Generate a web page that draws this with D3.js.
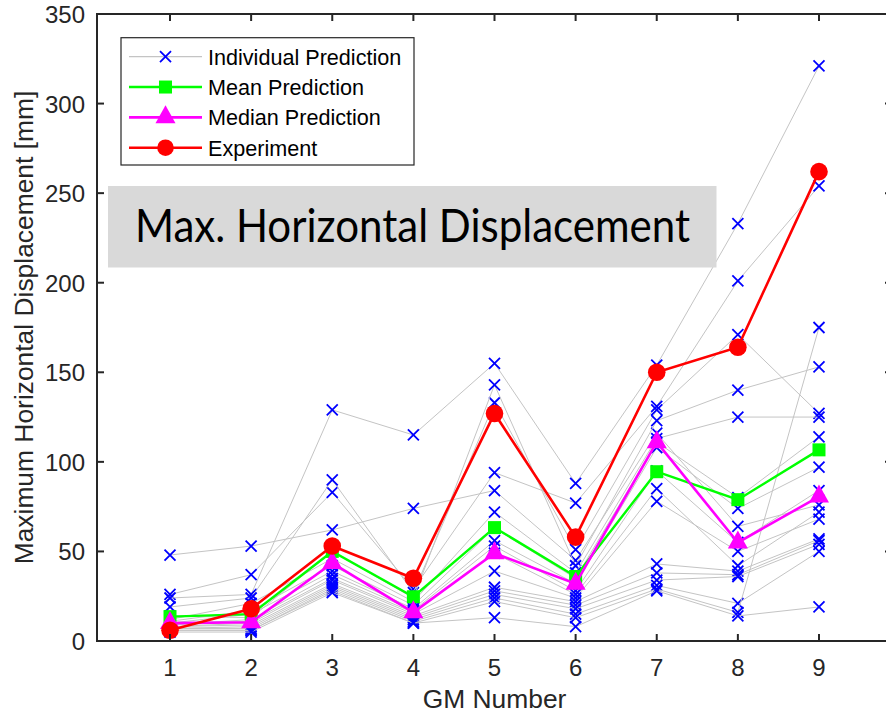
<!DOCTYPE html>
<html>
<head>
<meta charset="utf-8">
<script src="https://cdn.jsdelivr.net/npm/d3@7"></script>
<style>
  body { margin: 0; background: #fff; }
  svg { display: block; }
</style>
</head>
<body>
<script>
// Ground motion numbers on the x axis
const gmNumbers = [1, 2, 3, 4, 5, 6, 7, 8, 9];

// Individual model predictions of maximum horizontal displacement [mm], one row per model
const individualPredictions = [
  [48, 53, 62, 74, 84, 45, 116, 64, 76],
  [26, 37, 83, 29, 94, 77, 131, 201, 254],
  [24, 26, 129, 115, 155, 88, 154, 233, 321],
  [19, 24, 90, 27, 133, 51, 129, 171, 127],
  [14, 13, 50, 24, 143, 42, 123, 140, 153],
  [12, 21, 46, 22, 72, 38, 113, 125, 125],
  [11, 17, 42, 20, 63, 35, 111, 80, 114],
  [10, 15, 39, 18, 56, 32, 108, 74, 97],
  [9, 12, 37, 17, 53, 28, 95, 55, 84],
  [9, 11, 35, 16, 49, 26, 85, 42, 72],
  [8, 10, 34, 15, 39, 24, 78, 50, 68],
  [8, 9, 32, 14, 30, 22, 43, 39, 57],
  [7, 8, 31, 13, 28, 20, 38, 37, 56],
  [7, 7, 30, 12, 26, 18, 34, 36, 54],
  [6, 6, 29, 11, 24, 15, 31, 21, 50],
  [6, 6, 28, 10, 22, 13, 29, 16, 175],
  [5, 5, 27, 10, 13, 8, 28, 14, 19]
];

const meanPrediction   = [13.6, 15, 50, 24.7, 63.3, 36, 94.5, 78.9, 106.7];
const medianPrediction = [10, 10.5, 43.5, 16, 49, 32, 111, 55, 80.6];
const experiment       = [6, 18, 53, 35, 127, 58, 150, 164, 262];

const yTicks = [0, 50, 100, 150, 200, 250, 300, 350];
const legendLabels = ["Individual Prediction", "Mean Prediction", "Median Prediction", "Experiment"];
const titleText = "Max. Horizontal Displacement";
const xLabel = "GM Number";
const yLabel = "Maximum Horizontal Displacement [mm]";

const W = 886, H = 715;
const axisColor = "#262626";
const fontFamily = "'Liberation Sans', Arial, Helvetica, sans-serif";

const svg = d3.select("body").append("svg")
  .attr("width", W).attr("height", H)
  .attr("viewBox", `0 0 ${W} ${H}`);

const x = d3.scaleLinear().domain([0.1, 9.9]).range([97, 892]);
const y = d3.scaleLinear().domain([0, 350]).range([641, 14]);

const line = d3.line()
  .x((d, i) => x(gmNumbers[i]))
  .y(d => y(d));

// marker shapes
const xMark = "M-5.5,-5.5L5.5,5.5M-5.5,5.5L5.5,-5.5";
const squareMark = "M-6.5,-6.5H6.5V6.5H-6.5Z";
const triMark = "M0,-12L10,6L-10,6Z";

// individual predictions: grey lines with blue crosses
const indiv = svg.append("g");
individualPredictions.forEach(series => {
  const g = indiv.append("g");
  g.append("path")
    .attr("d", line(series))
    .attr("fill", "none")
    .attr("stroke", "#c4c4c4")
    .attr("stroke-width", 1);
  g.selectAll("path.m").data(series).join("path")
    .attr("class", "m")
    .attr("transform", (d, i) => `translate(${x(gmNumbers[i])},${y(d)})`)
    .attr("d", xMark)
    .attr("fill", "none")
    .attr("stroke", "#0000ff")
    .attr("stroke-width", 1.8);
});

// mean prediction
const meanG = svg.append("g");
meanG.append("path").attr("d", line(meanPrediction))
  .attr("fill", "none").attr("stroke", "#00ff00").attr("stroke-width", 2.4);
meanG.selectAll("path.m").data(meanPrediction).join("path")
  .attr("class", "m")
  .attr("transform", (d, i) => `translate(${x(gmNumbers[i])},${y(d)})`)
  .attr("d", squareMark).attr("fill", "#00ff00");

// median prediction
const medG = svg.append("g");
medG.append("path").attr("d", line(medianPrediction))
  .attr("fill", "none").attr("stroke", "#ff00ff").attr("stroke-width", 2.6);
medG.selectAll("path.m").data(medianPrediction).join("path")
  .attr("class", "m")
  .attr("transform", (d, i) => `translate(${x(gmNumbers[i])},${y(d)})`)
  .attr("d", triMark).attr("fill", "#ff00ff");

// experiment
const expG = svg.append("g");
expG.append("path").attr("d", line(experiment))
  .attr("fill", "none").attr("stroke", "#ff0000").attr("stroke-width", 2.6);
expG.selectAll("circle").data(experiment).join("circle")
  .attr("cx", (d, i) => x(gmNumbers[i]))
  .attr("cy", d => y(d))
  .attr("r", 8.8).attr("fill", "#ff0000");

// axes box with inward ticks on all four sides
const [x0, x1] = x.range();
const [yb, yt] = y.range();
const frame = svg.append("g").attr("stroke", axisColor).attr("stroke-width", 2).attr("fill", "none");
frame.append("rect").attr("x", x0).attr("y", yt).attr("width", x1 - x0).attr("height", yb - yt);
const tickLen = 7;
gmNumbers.forEach(v => {
  frame.append("line").attr("x1", x(v)).attr("x2", x(v)).attr("y1", yb).attr("y2", yb - tickLen);
  frame.append("line").attr("x1", x(v)).attr("x2", x(v)).attr("y1", yt).attr("y2", yt + tickLen);
});
yTicks.forEach(v => {
  frame.append("line").attr("x1", x0).attr("x2", x0 + tickLen).attr("y1", y(v)).attr("y2", y(v));
  frame.append("line").attr("x1", x1).attr("x2", x1 - tickLen).attr("y1", y(v)).attr("y2", y(v));
});

// tick labels
svg.append("g").selectAll("text").data(gmNumbers).join("text")
  .attr("x", d => x(d)).attr("y", 676)
  .attr("text-anchor", "middle")
  .attr("font-family", fontFamily).attr("font-size", 24).attr("fill", axisColor)
  .text(d => d);
svg.append("g").selectAll("text").data(yTicks).join("text")
  .attr("x", 85).attr("y", d => y(d) + 9)
  .attr("text-anchor", "end")
  .attr("font-family", fontFamily).attr("font-size", 24).attr("fill", axisColor)
  .text(d => d);

// axis labels
svg.append("text")
  .attr("x", (x(1) + x(9)) / 2).attr("y", 708)
  .attr("text-anchor", "middle")
  .attr("font-family", fontFamily).attr("font-size", 26.4).attr("fill", axisColor)
  .text(xLabel);
svg.append("text")
  .attr("transform", `translate(33,${(yb + yt) / 2}) rotate(-90)`)
  .attr("text-anchor", "middle")
  .attr("font-family", fontFamily).attr("font-size", 26.4).attr("fill", axisColor)
  .text(yLabel);

// legend
const lg = svg.append("g");
lg.append("rect").attr("x", 121).attr("y", 37.7).attr("width", 293).attr("height", 127.3)
  .attr("fill", "#fff").attr("stroke", axisColor).attr("stroke-width", 1.2);
const legendStyles = [
  { stroke: "#c4c4c4", width: 1.2, mark: "x" },
  { stroke: "#00ff00", width: 2.4, mark: "square" },
  { stroke: "#ff00ff", width: 2.6, mark: "tri" },
  { stroke: "#ff0000", width: 2.6, mark: "circle" }
];
const rowY = d3.scaleLinear().domain([0, 3]).range([56.7, 147.7]);
legendLabels.forEach((lab, i) => {
  const st = legendStyles[i];
  const cy = rowY(i);
  const g = lg.append("g");
  g.append("line").attr("x1", 129).attr("x2", 202).attr("y1", cy).attr("y2", cy)
    .attr("stroke", st.stroke).attr("stroke-width", st.width);
  const t = `translate(165.5,${cy})`;
  if (st.mark === "x") {
    g.append("path").attr("transform", t).attr("d", xMark)
      .attr("stroke", "#0000ff").attr("stroke-width", 1.8).attr("fill", "none");
  } else if (st.mark === "square") {
    g.append("path").attr("transform", t).attr("d", squareMark).attr("fill", "#00ff00");
  } else if (st.mark === "tri") {
    g.append("path").attr("transform", t).attr("d", triMark).attr("fill", "#ff00ff");
  } else {
    g.append("circle").attr("cx", 165.5).attr("cy", cy).attr("r", 8.3).attr("fill", "#ff0000");
  }
  g.append("text").attr("x", 208).attr("y", cy + 7.8)
    .attr("font-family", fontFamily).attr("font-size", 21.6).attr("fill", "#000")
    .text(lab);
});

// title box
const tb = svg.append("g");
tb.append("rect").attr("x", 108).attr("y", 186).attr("width", 608.5).attr("height", 81.5)
  .attr("fill", "#d9d9d9");
tb.append("text").attr("x", 135).attr("y", 241.5)
  .attr("font-family", "Lato, 'Open Sans', sans-serif").attr("font-size", 46)
  .attr("textLength", 555).attr("lengthAdjust", "spacingAndGlyphs")
  .attr("fill", "#000")
  .text(titleText);
</script>
</body>
</html>
